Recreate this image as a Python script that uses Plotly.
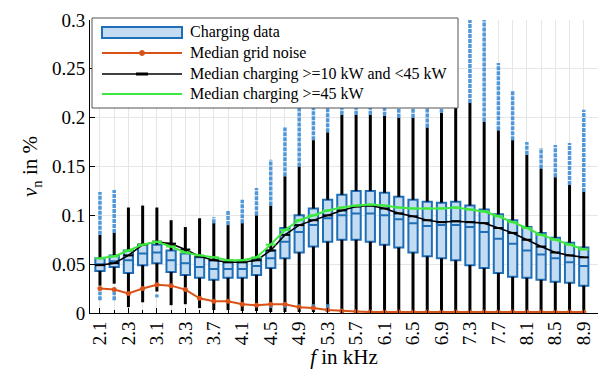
import plotly.graph_objects as go

# ---------------- data ----------------
freqs = [2.1, 2.3, 2.5, 2.7, 2.9, 3.1, 3.3, 3.5, 3.7, 3.9, 4.1, 4.3, 4.5, 4.7, 4.9, 5.1, 5.3, 5.5,
         5.7, 5.9, 6.1, 6.3, 6.5, 6.7, 6.9, 7.1, 7.3, 7.5, 7.7, 7.9, 8.1, 8.3, 8.5, 8.7, 8.9]
tick_freqs = [2.1, 2.5, 2.9, 3.3, 3.7, 4.1, 4.5, 4.9, 5.3, 5.7, 6.1, 6.5, 6.9, 7.3, 7.7, 8.1, 8.5, 8.9]
tick_labels = ["2.1", "2.3", "3.1", "3.3", "3.7", "4.1", "4.5", "4.9", "5.3", "5.7", "6.1", "6.5",
               "6.9", "7.3", "7.7", "8.1", "8.5", "8.9"]
y_ticks = [0, 0.05, 0.1, 0.15, 0.2, 0.25, 0.3]
y_labels = ["0", "0.05", "0.1", "0.15", "0.2", "0.25", "0.3"]

q1 = [.043, .047, .041, .049, .051, .042, .039, .036, .034, .036, .036, .039, .046, .056, .062, .068, .073, .075,
      .075, .073, .070, .067, .062, .058, .056, .054, .049, .046, .041, .037, .036, .034, .032, .031, .028]
med = [.050, .053, .054, .061, .062, .054, .051, .047, .045, .045, .045, .048, .056, .073, .083, .090, .097, .100,
       .102, .102, .100, .096, .092, .089, .090, .090, .088, .083, .076, .071, .064, .060, .056, .052, .048]
q3 = [.056, .059, .064, .070, .070, .064, .061, .057, .054, .052, .052, .056, .064, .087, .100, .107, .116, .121,
      .125, .125, .123, .119, .116, .114, .113, .114, .110, .106, .101, .095, .088, .082, .077, .072, .067]
whisk_lo = [.028, .030, .006, .011, .022, .008, .009, .005, .003, .003, .002, .002, .001, .001, .001, .001, .001, .001,
            .001, .001, .001, .001, .001, .001, .001, .001, .001, .001, .001, .001, .001, .001, .001, .001, .001]
whisk_hi = [.080, .082, .108, .110, .108, .095, .088, .097, .092, .090, .092, .100, .110, .140, .150, .177, .185, .203,
            .203, .203, .202, .200, .200, .190, .205, .210, .215, .196, .187, .177, .162, .148, .139, .131, .124]
outlier_hi = [.124, .126, None, None, None, None, None, None, .098, .105, .116, .128, .157, .190, .220, .215, .215, .215,
              .220, .220, .220, .220, .220, .210, .250, .280, .300, .300, .256, .228, .175, .169, .172, .174, .208]
outlier_lo_a = [.013, .013, None, None, .016, None, None, None, None, None, None, None, .005, .005, .005, .005, .005, None,
                None, None, None, None, None, None, None, None, None, None, None, None, None, None, None, None, None]
outlier_lo_b = [.022, .022, None, None, .019, None, None, None, None, None, None, None, .010, .010, .010, .010, .009, None,
                None, None, None, None, None, None, None, None, None, None, None, None, None, None, None, None, None]

grid_noise = [.025, .024, .020, .025, .029, .028, .024, .015, .012, .012, .009, .008, .009, .009, .006, .005, .003, .002,
              .0015, .001, .001, .001, .001, .001, .001, .001, .001, .001, .001, .001, .001, .001, .001, .001, .001]
charging_10_45 = [.049, .051, .059, .070, .073, .071, .065, .058, .054, .052, .052, .054, .064, .080, .090, .095, .100, .105,
                  .109, .110, .107, .102, .099, .095, .093, .094, .093, .092, .087, .082, .075, .068, .062, .059, .057]
charging_45 = [.056, .058, .064, .070, .073, .068, .062, .059, .057, .054, .054, .057, .070, .085, .095, .100, .105, .108,
               .110, .111, .110, .108, .107, .107, .107, .108, .106, .104, .099, .093, .087, .080, .075, .070, .065]

legend_labels = ["Charging data", "Median grid noise", "Median charging >=10 kW and <45 kW", "Median charging >=45 kW"]

# ---------------- styles ----------------
BLUE = "#1f6fb8"
BLUE_PTS = "#3f8ed6"
FILL = "#c4dcf1"
ORANGE = "#d95319"
GREEN = "#3ee83e"
FONT = "Liberation Serif, Times New Roman, serif"

fig = go.Figure()

# whiskers (black), drawn outside the box
wx, wy = [], []
for f, lo, a, b, hi in zip(freqs, whisk_lo, q1, q3, whisk_hi):
    wx += [f, f, None, f, f, None]
    wy += [lo, a, None, b, hi, None]
fig.add_trace(go.Scatter(x=wx, y=wy, mode="lines", line=dict(color="black", width=3), showlegend=False,
                         hoverinfo="skip"))

# outliers (upper and lower clouds)
ox, oy = [], []
for f, hi, om in zip(freqs, whisk_hi, outlier_hi):
    if om is not None:
        ox += [f, f, None]
        oy += [hi, om, None]
for f, a, b in zip(freqs, outlier_lo_a, outlier_lo_b):
    if a is not None:
        ox += [f, f, None]
        oy += [a, b, None]
fig.add_trace(go.Scatter(x=ox, y=oy, mode="lines", line=dict(color=BLUE_PTS, width=3.5, dash="4px,1px"),
                         opacity=0.9, showlegend=False, hoverinfo="skip"))

# boxes
fig.add_trace(go.Box(x=freqs, q1=q1, median=med, q3=q3, lowerfence=q1, upperfence=q3,
                     width=0.13, fillcolor=FILL, line=dict(color=BLUE, width=2), whiskerwidth=0,
                     boxpoints=False, showlegend=False))

# median lines
fig.add_trace(go.Scatter(x=freqs, y=grid_noise, mode="lines+markers",
                         line=dict(color=ORANGE, width=2), marker=dict(color=ORANGE, size=5),
                         showlegend=False))
fig.add_trace(go.Scatter(x=freqs, y=charging_10_45, mode="lines+markers", line=dict(color="black", width=1.6),
                         marker=dict(symbol="line-ew", size=7, line=dict(color="black", width=2)),
                         showlegend=False))
fig.add_trace(go.Scatter(x=freqs, y=charging_45, mode="lines+markers", line=dict(color=GREEN, width=2),
                         marker=dict(symbol="line-ew", size=7, line=dict(color=GREEN, width=2)),
                         showlegend=False))

# ---------------- manual legend (paper coords from pixel layout) ----------------
L, R, T, B = 90, 2, 20, 57
W, H = 600, 370
pw, ph = W - L - R, H - T - B


def px(x):
    return (x - L) / pw


def py(y):
    return (H - B - y) / ph


shapes = [
    dict(type="rect", xref="paper", yref="paper", x0=px(92), x1=px(458), y0=py(108), y1=py(18),
         fillcolor="white", line=dict(color="#555555", width=1), layer="above"),
    dict(type="rect", xref="paper", yref="paper", x0=px(102), x1=px(182), y0=py(38), y1=py(27),
         fillcolor=FILL, line=dict(color=BLUE, width=2), layer="above"),
    dict(type="line", xref="paper", yref="paper", x0=px(102), x1=px(182), y0=py(53), y1=py(53),
         line=dict(color=ORANGE, width=2), layer="above"),
    dict(type="circle", xref="paper", yref="paper", x0=px(139.5), x1=px(144.5), y0=py(55.5), y1=py(50.5),
         fillcolor=ORANGE, line=dict(color=ORANGE, width=1), layer="above"),
    dict(type="line", xref="paper", yref="paper", x0=px(102), x1=px(182), y0=py(74), y1=py(74),
         line=dict(color="black", width=1.5), layer="above"),
    dict(type="line", xref="paper", yref="paper", x0=px(136), x1=px(148), y0=py(74), y1=py(74),
         line=dict(color="black", width=3), layer="above"),
    dict(type="line", xref="paper", yref="paper", x0=px(102), x1=px(182), y0=py(94), y1=py(94),
         line=dict(color=GREEN, width=2), layer="above"),
]
annotations = []
for lab, yy in zip(legend_labels, [32, 53, 74, 94]):
    annotations.append(dict(xref="paper", yref="paper", x=px(188), y=py(yy), text=lab, showarrow=False,
                            xanchor="left", yanchor="middle", font=dict(family=FONT, size=16, color="black")))

fig.update_layout(
    width=W, height=H, margin=dict(l=L, r=R, t=T, b=B),
    plot_bgcolor="white", paper_bgcolor="white", showlegend=False,
    font=dict(family=FONT, color="black"),
    shapes=shapes, annotations=annotations,
    xaxis=dict(range=[1.96, 9.1], tickmode="array", tickvals=tick_freqs, ticktext=tick_labels,
               tickangle=-90, ticks="inside", ticklen=5, tickcolor="black", showline=True,
               linecolor="black", linewidth=1, showgrid=True, gridcolor="#e6e6e6", zeroline=False,
               tickfont=dict(family=FONT, size=19, color="black"),
               minor=dict(tickvals=freqs, ticks="inside", ticklen=3, tickcolor="black",
                          showgrid=True, gridcolor="#e6e6e6"),
               title=dict(text="<i>f</i> in kHz", font=dict(family=FONT, size=21, color="black"), standoff=2)),
    yaxis=dict(range=[0, 0.3], tickmode="array", tickvals=y_ticks, ticktext=y_labels,
               ticks="inside", ticklen=5, tickcolor="black", showline=True, linecolor="black",
               linewidth=1, showgrid=True, gridcolor="#e6e6e6", zeroline=False,
               tickfont=dict(family=FONT, size=19, color="black"),
               title=dict(text="<i>v</i><sub>n</sub> in %", font=dict(family=FONT, size=21, color="black"),
                          standoff=8)),
)

fig.write_html("out.html")
